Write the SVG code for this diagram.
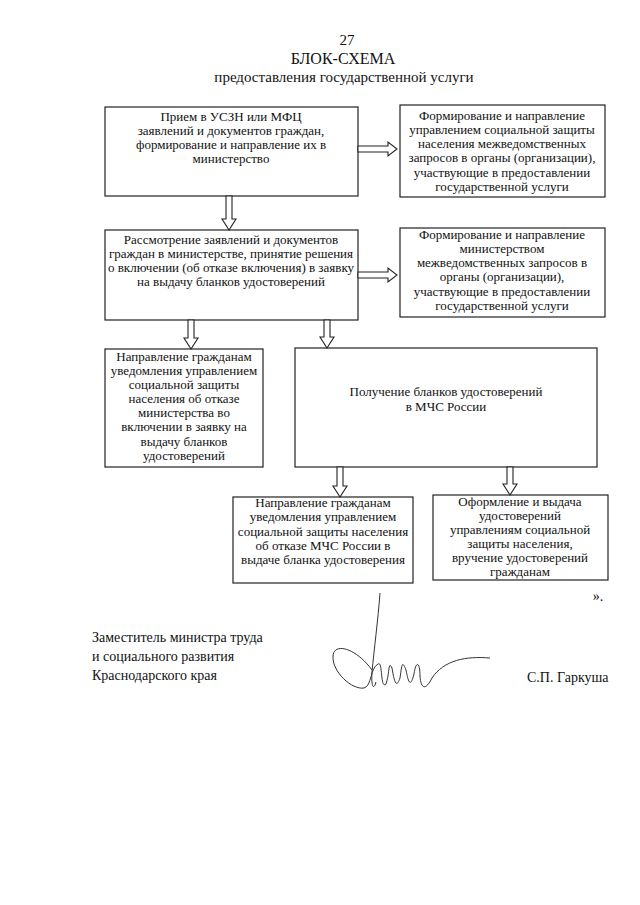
<svg xmlns="http://www.w3.org/2000/svg" width="640" height="905" viewBox="0 0 640 905">
<style>
text{font-family:"Liberation Serif","Times New Roman",serif;fill:#111;}
.t{font-size:13px;text-anchor:middle;}
.box{fill:#fff;stroke:#222;stroke-width:1.2;}
.arr{fill:#fff;stroke:#222;stroke-width:1.1;stroke-linejoin:miter;}
.sig{fill:none;stroke:#333;stroke-width:1;}
</style>
<rect width="640" height="905" fill="#fff"/>
<g id="header">
<text x="347" y="45" font-size="15" text-anchor="middle">27</text>
<text x="343" y="64" font-size="16" text-anchor="middle">БЛОК-СХЕМА</text>
<text x="344" y="82" font-size="15" text-anchor="middle">предоставления государственной услуги</text>
</g>
<g id="n1">
<rect class="box" x="105" y="107" width="253" height="89"/>
<text class="t" x="231" y="121">Прием в УСЗН или МФЦ</text>
<text class="t" x="231" y="135">заявлений и документов граждан,</text>
<text class="t" x="231" y="149">формирование и направление их в</text>
<text class="t" x="231" y="163">министерство</text>
</g>
<g id="n2">
<rect class="box" x="400" y="105" width="205" height="92"/>
<text class="t" x="502" y="120">Формирование и направление</text>
<text class="t" x="502" y="134">управлением социальной защиты</text>
<text class="t" x="502" y="148">населения межведомственных</text>
<text class="t" x="502" y="162">запросов в органы (организации),</text>
<text class="t" x="502" y="177">участвующие в предоставлении</text>
<text class="t" x="502" y="191">государственной услуги</text>
</g>
<g id="n3">
<rect class="box" x="105" y="230" width="253" height="90"/>
<text class="t" x="231" y="244">Рассмотрение заявлений и документов</text>
<text class="t" x="231" y="258">граждан в министерстве, принятие решения</text>
<text class="t" x="231" y="272">о включении (об отказе включения) в заявку</text>
<text class="t" x="231" y="286">на выдачу бланков удостоверений</text>
</g>
<g id="n4">
<rect class="box" x="400" y="228" width="205" height="89"/>
<text class="t" x="502" y="239">Формирование и направление</text>
<text class="t" x="502" y="253">министерством</text>
<text class="t" x="502" y="267">межведомственных запросов в</text>
<text class="t" x="502" y="281">органы (организации),</text>
<text class="t" x="502" y="296">участвующие в предоставлении</text>
<text class="t" x="502" y="310">государственной услуги</text>
</g>
<g id="n5">
<rect class="box" x="105" y="349" width="158" height="118"/>
<text class="t" x="184" y="361">Направление гражданам</text>
<text class="t" x="184" y="375">уведомления управлением</text>
<text class="t" x="184" y="389">социальной защиты</text>
<text class="t" x="184" y="403">населения об отказе</text>
<text class="t" x="184" y="417">министерства во</text>
<text class="t" x="184" y="431">включении в заявку на</text>
<text class="t" x="184" y="446">выдачу бланков</text>
<text class="t" x="184" y="460">удостоверений</text>
</g>
<g id="n6">
<rect class="box" x="295" y="348" width="302" height="119"/>
<text class="t" x="446" y="396">Получение бланков удостоверений</text>
<text class="t" x="446" y="411">в МЧС России</text>
</g>
<g id="n7">
<rect class="box" x="233" y="497" width="180" height="86"/>
<text class="t" x="323" y="507">Направление гражданам</text>
<text class="t" x="323" y="521">уведомления управлением</text>
<text class="t" x="323" y="536">социальной защиты населения</text>
<text class="t" x="323" y="550">об отказе МЧС России в</text>
<text class="t" x="323" y="564">выдаче бланка удостоверения</text>
</g>
<g id="n8">
<rect class="box" x="433" y="495" width="175" height="85"/>
<text class="t" x="520" y="506">Оформление и выдача</text>
<text class="t" x="520" y="520">удостоверений</text>
<text class="t" x="520" y="534">управлениям социальной</text>
<text class="t" x="520" y="548">защиты населения,</text>
<text class="t" x="520" y="562">вручение удостоверений</text>
<text class="t" x="520" y="576">гражданам</text>
</g>
<g id="connectors">
<polygon class="arr" points="358,146 388,146 388,142 397,149 388,156 388,152 358,152"/>
<polygon class="arr" points="358,272 388,272 388,268 397,275 388,282 388,278 358,278"/>
<polygon class="arr" points="226,196 226,219 222,219 229,230 236,219 232,219 232,196"/>
<polygon class="arr" points="188,320 188,338 184,338 191,349 198,338 194,338 194,320"/>
<polygon class="arr" points="324,320 324,337 320,337 327,348 334,337 330,337 330,320"/>
<polygon class="arr" points="337,467 337,486 333,486 340,497 347,486 343,486 343,467"/>
<polygon class="arr" points="507,467 507,484 503,484 510,495 517,484 513,484 513,467"/>
</g>
<g id="footer">
<text x="598" y="601" font-size="14" text-anchor="middle">».</text>
<text x="92" y="642" font-size="14">Заместитель министра труда</text>
<text x="92" y="661" font-size="14">и социального развития</text>
<text x="92" y="680" font-size="14">Краснодарского края</text>
<text x="527" y="682" font-size="14">С.П. Гаркуша</text>
<path class="sig" d="M380,593 C378,620 374,650 372,672 C371,688 374,690 376,682 M372,670 C356,648 334,642 333,656 C332,672 352,690 364,688 C372,686 370,668 378,664 C383,660 380,690 386,684 C390,672 388,660 392,668 C394,680 396,690 400,678 C402,664 402,660 406,670 C408,680 410,690 414,674 C416,660 420,662 420,676 C421,690 426,690 432,678 C444,660 466,656 490,658"/>
</g>
</svg>
